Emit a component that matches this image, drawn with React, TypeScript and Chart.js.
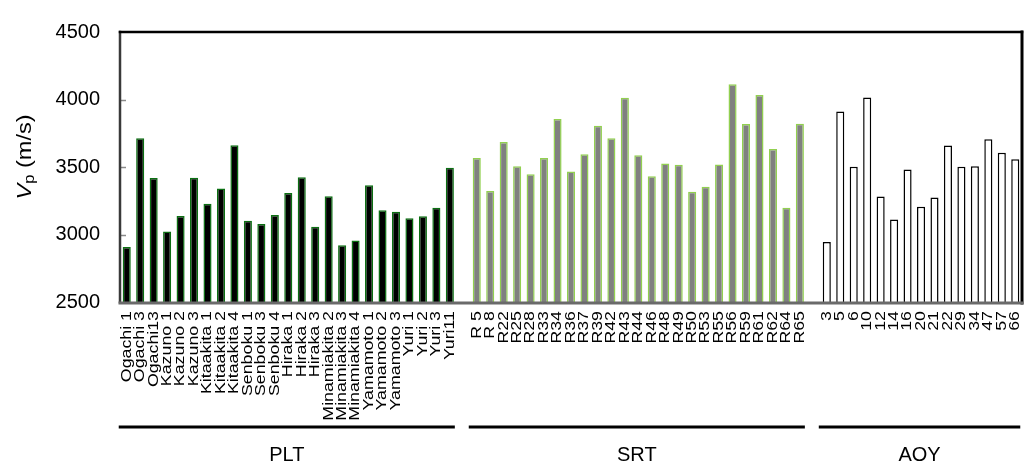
import React, { useEffect, useRef } from "react";
import { Chart, registerables } from "chart.js";

Chart.register(...registerables);

const FONT = '"Liberation Sans", Arial, sans-serif';

const pltLabels = ["Ogachi 1", "Ogachi 3", "Ogachi13", "Kazuno 1", "Kazuno 2", "Kazuno 3", "Kitaakita 1", "Kitaakita 2", "Kitaakita 4", "Senboku 1", "Senboku 3", "Senboku 4", "Hiraka 1", "Hiraka 2", "Hiraka 3", "Minamiakita 2", "Minamiakita 3", "Minamiakita 4", "Yamamoto 1", "Yamamoto 2", "Yamamoto 3", "Yuri 1", "Yuri 2", "Yuri 3", "Yuri11"];
const pltValues = [2907, 3713, 3419, 3023, 3137, 3421, 3228, 3340, 3662, 3102, 3077, 3144, 3307, 3424, 3058, 3284, 2921, 2956, 3365, 3179, 3168, 3121, 3135, 3198, 3494];

const srtLabels = ["R 5", "R 8", "R22", "R25", "R28", "R33", "R34", "R36", "R37", "R39", "R42", "R43", "R44", "R46", "R48", "R49", "R50", "R53", "R55", "R56", "R59", "R61", "R62", "R64", "R65"];
const srtValues = [3566, 3323, 3685, 3505, 3447, 3566, 3855, 3466, 3594, 3806, 3713, 4013, 3587, 3431, 3526, 3517, 3316, 3354, 3519, 4113, 3818, 4034, 3634, 3198, 3820];

const aoyLabels = ["3", "5", "6", "10", "12", "14", "16", "20", "21", "22", "29", "34", "47", "57", "66"];
const aoyValues = [2944, 3911, 3501, 4015, 3281, 3112, 3482, 3205, 3275, 3659, 3501, 3505, 3706, 3606, 3557];

const groupNames = ["PLT", "SRT", "AOY"];
const yMin = 2500;
const yMax = 4500;
const yStep = 500;

// Build the category axis: groups separated by one empty slot
const groups = [
  { labels: pltLabels, values: pltValues },
  { labels: srtLabels, values: srtValues },
  { labels: aoyLabels, values: aoyValues },
];
const allLabels: string[] = [];
const groupRanges: { start: number; end: number }[] = [];
groups.forEach((g, gi) => {
  if (gi > 0) allLabels.push("");
  const start = allLabels.length;
  g.labels.forEach((l) => allLabels.push(l));
  groupRanges.push({ start, end: allLabels.length - 1 });
});
const seriesData = groups.map((g, gi) => {
  const arr: (number | null)[] = allLabels.map(() => null);
  g.values.forEach((v, i) => {
    arr[groupRanges[gi].start + i] = v;
  });
  return arr;
});

const decorPlugin = {
  id: "decor",
  afterDraw(chart: any) {
    const { ctx, chartArea, scales } = chart;
    const x = scales.x;
    const y = scales.y;
    const { left, right, top, bottom } = chartArea;
    ctx.save();

    // inner y tick marks
    ctx.strokeStyle = "#8a8a8a";
    ctx.lineWidth = 1.5;
    for (let v = yMin + yStep; v < yMax; v += yStep) {
      const py = Math.round(y.getPixelForValue(v)) + 0.5;
      ctx.beginPath();
      ctx.moveTo(left + 1, py);
      ctx.lineTo(left + 6, py);
      ctx.stroke();
    }

    // frame
    ctx.lineCap = "square";
    ctx.strokeStyle = "#3a3a3a";
    ctx.lineWidth = 2.5;
    ctx.beginPath();
    ctx.moveTo(left, top);
    ctx.lineTo(left, bottom);
    ctx.stroke();
    ctx.strokeStyle = "#000";
    ctx.lineWidth = 2.5;
    ctx.beginPath();
    ctx.moveTo(left, top);
    ctx.lineTo(right, top);
    ctx.stroke();
    ctx.lineWidth = 3;
    ctx.beginPath();
    ctx.moveTo(right, top);
    ctx.lineTo(right, bottom + 1);
    ctx.stroke();
    ctx.strokeStyle = "#6a6a6a";
    ctx.lineWidth = 3;
    ctx.beginPath();
    ctx.moveTo(left, bottom + 1);
    ctx.lineTo(right, bottom + 1);
    ctx.stroke();

    // x labels (rotated, stretched along text direction)
    ctx.fillStyle = "#000";
    ctx.font = `14px ${FONT}`;
    ctx.textAlign = "right";
    ctx.textBaseline = "middle";
    allLabels.forEach((lab, i) => {
      if (!lab) return;
      const px = x.getPixelForValue(i);
      ctx.save();
      ctx.translate(px, bottom + 9);
      ctx.rotate(-Math.PI / 2);
      ctx.scale(1.27, 1);
      ctx.fillText(lab, 0, 0);
      ctx.restore();
    });

    // group lines and names
    groupRanges.forEach((r, gi) => {
      const x0 = x.getPixelForValue(r.start) - 8;
      const x1 = x.getPixelForValue(r.end) + 5;
      ctx.strokeStyle = "#000";
      ctx.lineWidth = 3;
      ctx.lineCap = "butt";
      ctx.beginPath();
      ctx.moveTo(x0, 427);
      ctx.lineTo(x1, 427);
      ctx.stroke();
      ctx.font = `20px ${FONT}`;
      ctx.textAlign = "center";
      ctx.textBaseline = "middle";
      ctx.fillText(groupNames[gi], (x0 + x1) / 2, 455);
    });

    // y title: V_p (m/s)
    ctx.save();
    ctx.translate(31, 157);
    ctx.rotate(-Math.PI / 2);
    ctx.scale(1.18, 1);
    ctx.textBaseline = "alphabetic";
    ctx.textAlign = "left";
    const fV = `italic 20px ${FONT}`;
    const fP = `14px ${FONT}`;
    const fR = `20px ${FONT}`;
    ctx.font = fV;
    const wV = ctx.measureText("V").width;
    ctx.font = fP;
    const wP = ctx.measureText("p").width;
    ctx.font = fR;
    const wR = ctx.measureText(" (m/s)").width;
    const total = wV + wP + wR;
    let cx = -total / 2;
    ctx.font = fV;
    ctx.fillText("V", cx, 0);
    cx += wV;
    ctx.font = fP;
    ctx.fillText("p", cx, 3);
    cx += wP;
    ctx.font = fR;
    ctx.fillText(" (m/s)", cx, 0);
    ctx.restore();

    ctx.restore();
  },
};

export default function App() {
  const ref = useRef<HTMLCanvasElement | null>(null);
  useEffect(() => {
    document.body.style.margin = "0";
    if (!ref.current) return;
    const chart = new Chart(ref.current, {
      type: "bar",
      data: {
        labels: allLabels,
        datasets: [
          {
            label: groupNames[0],
            data: seriesData[0],
            backgroundColor: "#000000",
            borderColor: "#0b6f12",
            borderWidth: 1.5,
          },
          {
            label: groupNames[1],
            data: seriesData[1],
            backgroundColor: "#808080",
            borderColor: "#92d050",
            borderWidth: 1.5,
          },
          {
            label: groupNames[2],
            data: seriesData[2],
            backgroundColor: "#ffffff",
            borderColor: "#000000",
            borderWidth: 1.5,
          },
        ] as any,
      },
      options: {
        animation: false,
        responsive: true,
        maintainAspectRatio: false,
        layout: { padding: { left: 0, right: 3, top: 16, bottom: 0 } },
        datasets: {
          bar: {
            grouped: false,
            barPercentage: 0.6,
            categoryPercentage: 1,
            base: yMin,
          } as any,
        },
        plugins: {
          legend: { display: false },
          tooltip: { enabled: false },
        },
        scales: {
          x: {
            grid: { display: false, drawTicks: false },
            border: { display: false },
            ticks: { display: false },
            afterFit: (s: any) => {
              s.height = 168;
            },
          },
          y: {
            min: yMin,
            max: yMax,
            grid: { display: false, drawTicks: false },
            border: { display: false },
            ticks: {
              stepSize: yStep,
              padding: 20,
              color: "#000",
              font: { size: 20, family: FONT },
              callback: (v: any) => String(v),
            },
            afterFit: (s: any) => {
              s.width = 120;
            },
          },
        },
      },
      plugins: [decorPlugin],
    });
    return () => chart.destroy();
  }, []);
  return (
    <div style={{ position: "absolute", left: 0, top: 0, width: 1025, height: 470 }}>
      <canvas ref={ref} />
    </div>
  );
}
